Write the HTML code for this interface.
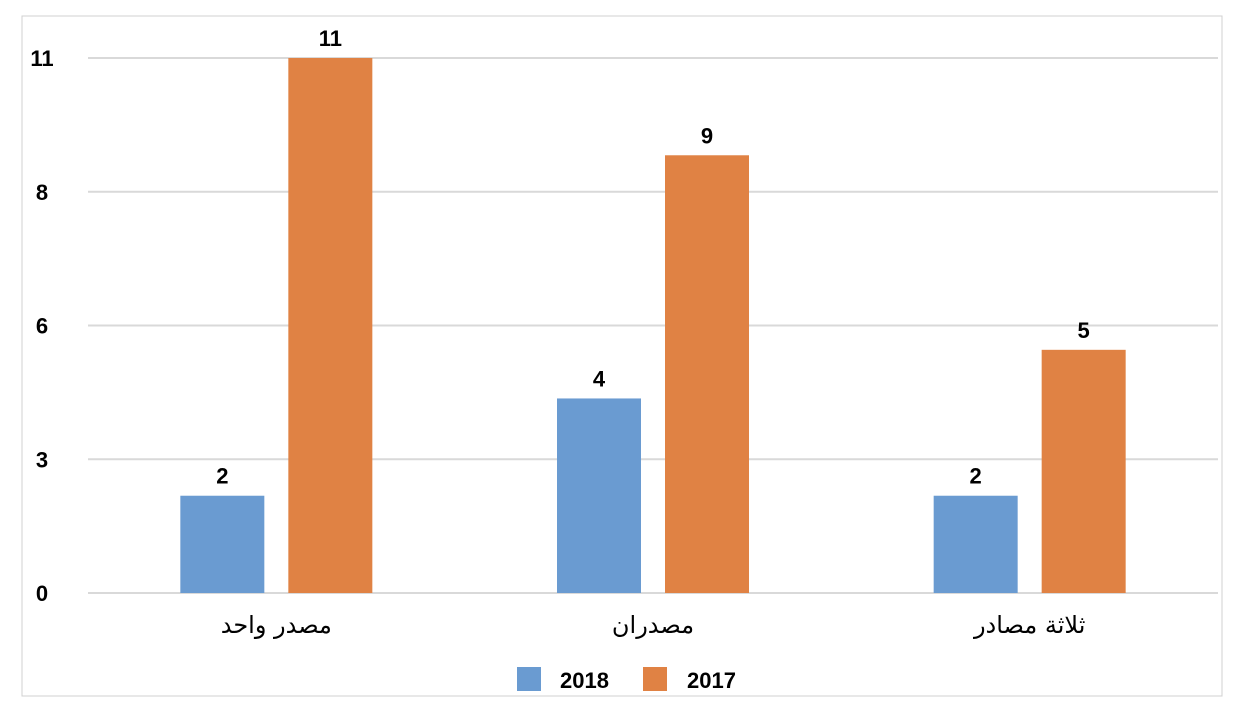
<!DOCTYPE html>
<html><head><meta charset="utf-8"><style>
body{margin:0;background:#fff;}
svg{display:block;font-family:"Liberation Sans","DejaVu Sans",sans-serif;}
</style></head><body>
<svg id="chart" width="1240" height="728">
<rect x="22" y="16" width="1200" height="680" fill="#fff" stroke="#d0d0d0"/>
<g id="grid"></g><g id="bars"></g><g id="labels"></g>
<g>
<rect x="517" y="667" width="24" height="24" fill="#6a9bd1"/>
<text x="560" y="688" font-size="22" font-weight="bold">2018</text>
<rect x="643" y="667" width="24" height="24" fill="#e08244"/>
<text x="687" y="688" font-size="22" font-weight="bold">2017</text>
</g>
</svg>
<script>
const categories=["مصدر واحد","مصدران","ثلاثة مصادر"];
const s2018=[2,4,2];
const s2017=[11,9,5];
const tickValues=[0,2.75,5.5,8.25,11];
const tickLabels=["0","3","6","8","11"];
const NS="http://www.w3.org/2000/svg";
const x0=88,x1=1218,y0=593,y1=58,maxV=11;
const y=v=>y0-(v/maxV)*(y0-y1);
const bw=(x1-x0)/categories.length;
function mk(tag,attrs,parent,text){const e=document.createElementNS(NS,tag);for(const k in attrs)e.setAttribute(k,attrs[k]);if(text!==undefined)e.textContent=text;parent.appendChild(e);return e;}
const g=document.getElementById('grid'),b=document.getElementById('bars'),l=document.getElementById('labels');
tickValues.forEach((t,i)=>{
 const ln=mk('line',{x1:x0,x2:x1,y1:y(t),y2:y(t),stroke:'#d9d9d9','stroke-width':2},g);
 
 
 const tx=mk('text',{x:42,y:y(t)+8,'font-size':22,'font-weight':'bold','text-anchor':'middle'},g,tickLabels[i]);
 
 
});
categories.forEach((c,i)=>{
 const cx=x0+bw*i+bw/2;
 [[s2018,'#6a9bd1',-96,'2018'],[s2017,'#e08244',12,'2017']].forEach(([arr,col,off,nm])=>{
  const v=arr[i];
  const r=mk('rect',{x:cx+off,y:y(v),width:84,height:y0-y(v),fill:col},b);
  
  
  const t=mk('text',{x:cx+off+42,y:y(v)-12,'font-size':22,'font-weight':'bold','text-anchor':'middle'},l,String(v));
  
  
 });
 const ct=mk('text',{x:cx,y:633,'font-size':24,'text-anchor':'middle',direction:'rtl','font-family':'"DejaVu Sans",sans-serif'},l,c);
 
 
});
</script>
</body></html>
